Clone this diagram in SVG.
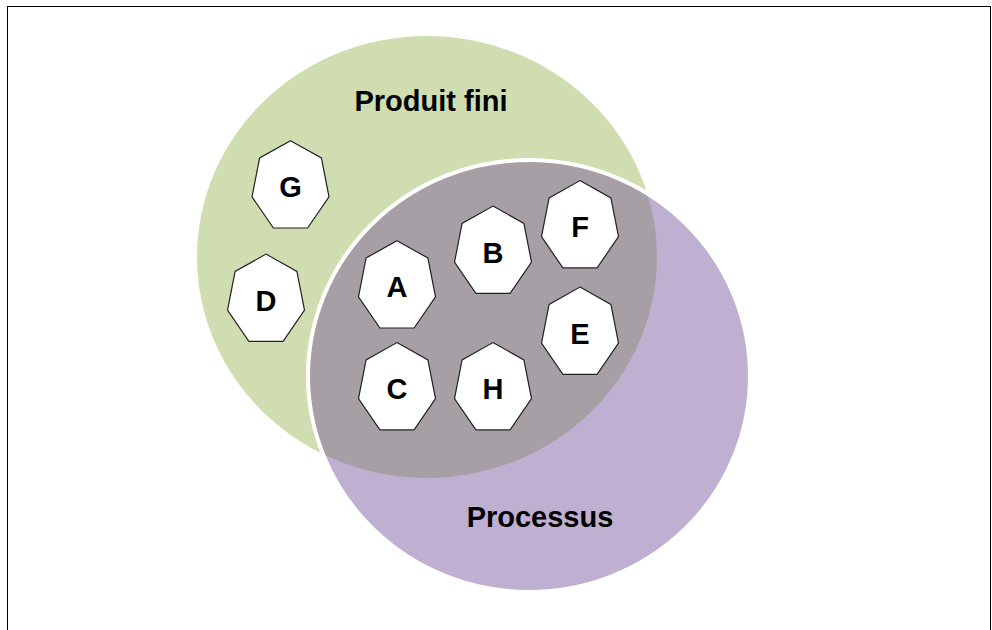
<svg xmlns="http://www.w3.org/2000/svg" width="992" height="630" viewBox="0 0 992 630">
<style>
.hep{fill:#ffffff;stroke:#222222;stroke-width:1.2}
.lbl{font-family:"Liberation Sans",Arial,sans-serif;font-weight:bold;font-size:29px;fill:#000000;text-anchor:middle}
.ttl{font-family:"Liberation Sans",Arial,sans-serif;font-weight:bold;font-size:29px;fill:#000000;text-anchor:middle}
</style>
<defs>
<polygon id="hp" points="0,-45.9 30.9,-28.6 38.5,10.2 17.1,41.4 -17.1,41.4 -38.5,10.2 -30.9,-28.6"/>
<clipPath id="inPurple"><ellipse cx="529" cy="376" rx="221" ry="216"/></clipPath>
</defs>
<rect x="7.5" y="6.5" width="983" height="640" fill="#ffffff" stroke="#000000" stroke-width="1"/>
<g id="venn">
<ellipse id="green" cx="427" cy="257" rx="230" ry="221" fill="#cfddb0"/>
<ellipse id="purple" cx="529" cy="376" rx="221" ry="216" fill="#bfb0d1"/>
<ellipse id="overlap" cx="427" cy="257" rx="230" ry="221" fill="#a6a0a6" clip-path="url(#inPurple)"/>
<ellipse cx="529" cy="376" rx="221" ry="216" fill="none" stroke="#ffffff" stroke-width="4"/>
</g>
<g id="connectors"></g>
<g id="title-produit"><text class="ttl" x="431" y="111">Produit fini</text></g>
<g id="title-processus"><text class="ttl" x="540" y="527">Processus</text></g>
<g id="node-G"><use href="#hp" class="hep" x="290.5" y="186.6"/><text class="lbl" x="290.5" y="197">G</text></g>
<g id="node-D"><use href="#hp" class="hep" x="266" y="300"/><text class="lbl" x="266" y="310.5">D</text></g>
<g id="node-A"><use href="#hp" class="hep" x="397" y="286.6"/><text class="lbl" x="397" y="297">A</text></g>
<g id="node-B"><use href="#hp" class="hep" x="493" y="252"/><text class="lbl" x="493" y="262.5">B</text></g>
<g id="node-F"><use href="#hp" class="hep" x="580" y="226.5"/><text class="lbl" x="580" y="237">F</text></g>
<g id="node-E"><use href="#hp" class="hep" x="580" y="333"/><text class="lbl" x="580" y="343.5">E</text></g>
<g id="node-C"><use href="#hp" class="hep" x="397" y="388.5"/><text class="lbl" x="397" y="399">C</text></g>
<g id="node-H"><use href="#hp" class="hep" x="493" y="388.5"/><text class="lbl" x="493" y="399">H</text></g>
</svg>
